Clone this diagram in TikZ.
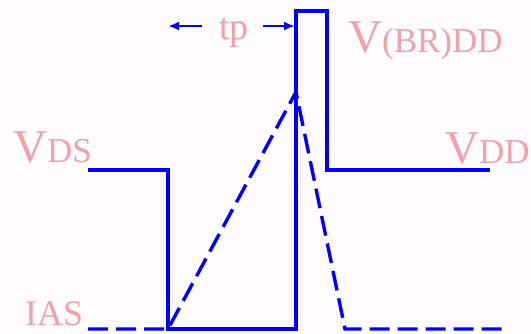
\documentclass[tikz,border=0pt]{standalone}
\usepackage{fontspec}
\setmainfont{Liberation Serif}
\usetikzlibrary{arrows.meta}
\definecolor{bgpink}{RGB}{255,251,255}
\definecolor{lblpink}{RGB}{240,162,170}
\newcommand{\bigV}{{\fontsize{47}{47}\selectfont V}}
\newcommand{\subtxt}[1]{{\fontsize{35}{35}\selectfont #1}}
\begin{document}
\begin{tikzpicture}[
  x=1pt, y=1pt,
  wave/.style={draw=blue, line width=3.4pt},
  dwave/.style={draw=blue, line width=3.4pt, dash pattern=on 20pt off 8pt},
  arr/.style={draw=blue, line width=2.8pt, -{Latex[length=11pt, width=9pt]}},
  lbl/.style={text=lblpink, inner sep=0pt, anchor=base west}
]
\fill[bgpink] (0,0) rectangle (531,334);
\useasboundingbox (0,0) rectangle (531,334);

% waveform corners
\coordinate (vdsL) at (88,164);
\coordinate (vdsR) at (168,164);
\coordinate (botL) at (168,5);
\coordinate (botR) at (296,5);
\coordinate (topL) at (296,323);
\coordinate (topR) at (327,323);
\coordinate (vddL) at (327,164);
\coordinate (vddR) at (490,164);
\coordinate (iasL) at (88,5);
\coordinate (peak) at (296,242);
\coordinate (fall) at (345,5);
\coordinate (iasR) at (503,5);

\draw[wave] (vdsL) -- (vdsR) -- (botL) -- (botR) -- (topL) -- (topR) -- (vddL) -- (vddR);
\draw[dwave] (iasL) -- (botL) -- (peak) -- (fall) -- (iasR);

% labels
\node[lbl] (vds) at (13,171) {\bigV\subtxt{DS}};
\node[lbl] (vbr) at (348,281) {\bigV\subtxt{(BR)DD}};
\node[lbl] (vdd) at (445,170) {\bigV\subtxt{DD}};
\node[lbl] (ias) at (25,8) {{\fontsize{36}{36}\selectfont IAS}};
\node[text=lblpink, inner sep=0pt, anchor=base] (tp) at (234,294) {{\fontsize{38}{38}\selectfont tp}};

% pulse width arrows
\coordinate (tpLa) at (202,308);
\coordinate (tpLb) at (168,308);
\coordinate (tpRa) at (263,308);
\coordinate (tpRb) at (295,308);
\draw[arr] (tpLa) -- (tpLb);
\draw[arr] (tpRa) -- (tpRb);
\end{tikzpicture}
\end{document}
